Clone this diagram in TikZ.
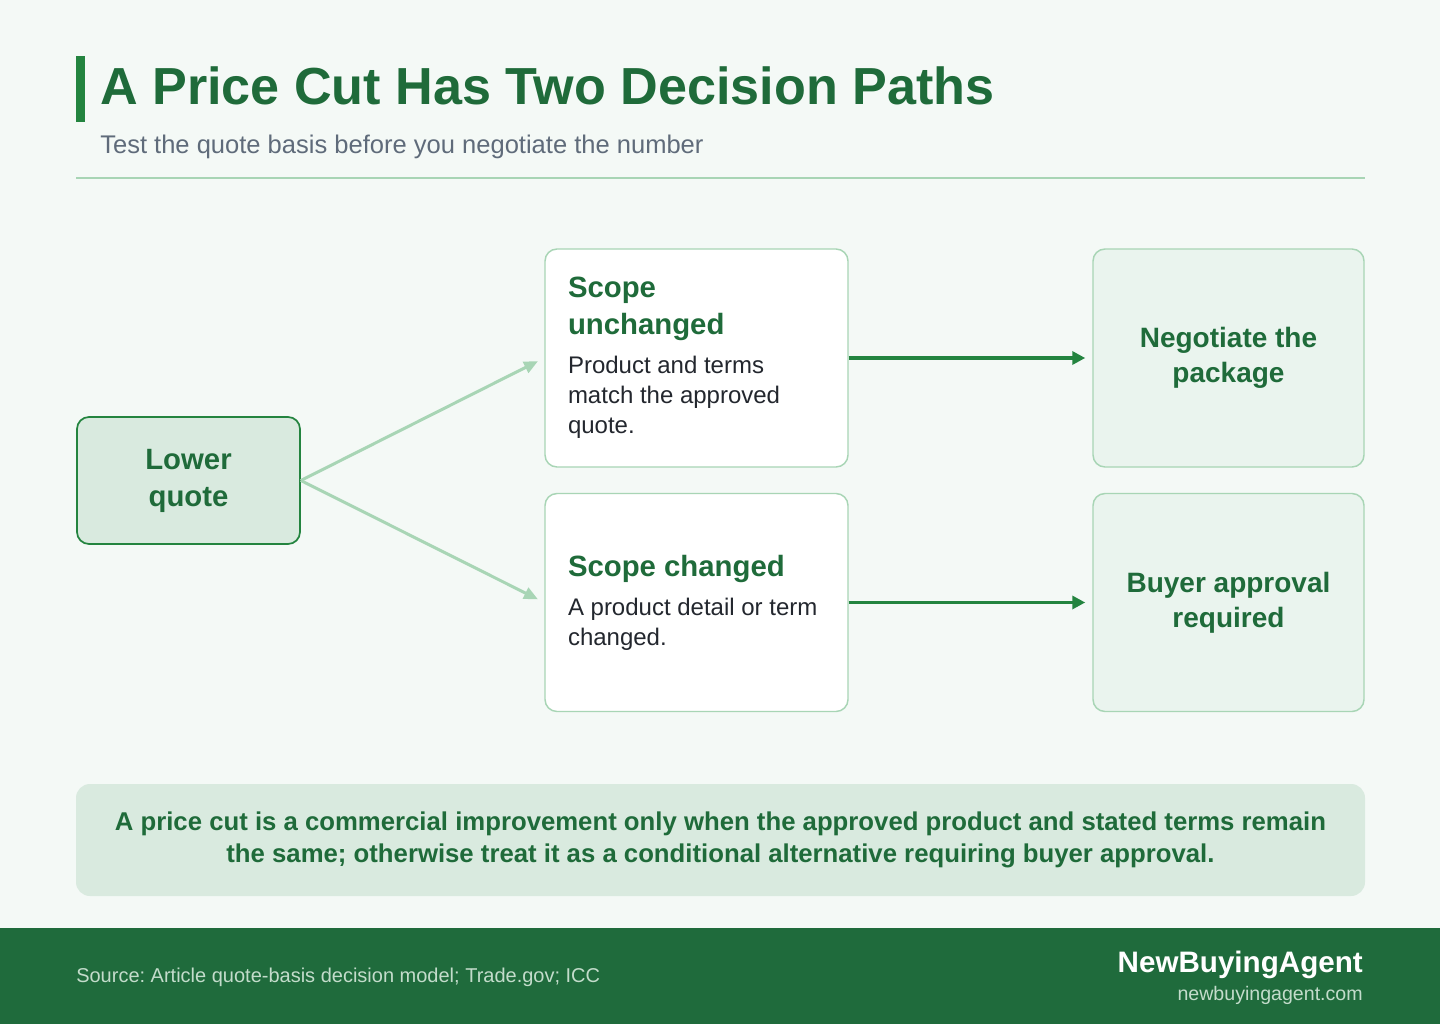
\documentclass[tikz,border=0pt]{standalone}
\usepackage{fontspec}
\setmainfont{Liberation Sans}
\usetikzlibrary{arrows.meta,positioning}
\definecolor{pagebg}{HTML}{F4F9F6}
\definecolor{nbagreen}{HTML}{1F6B3A}
\definecolor{nbaaccent}{HTML}{23843F}
\definecolor{nbalight}{HTML}{A8D5B5}
\definecolor{nbapale}{HTML}{D9EADF}
\definecolor{nbamint}{HTML}{EAF4EE}
\definecolor{nbagrey}{HTML}{5F6B7A}
\definecolor{nbaink}{HTML}{23272E}
\definecolor{nbafooter}{HTML}{1F6B3C}
\definecolor{nbafoottext}{HTML}{C3DCCB}

\begin{document}
\frenchspacing
\begin{tikzpicture}[
    x=0.75pt, y=-0.75pt,
    natural/.style={execute at begin node={\spaceskip=0pt\xspaceskip=0pt}},
    card/.style={natural, draw=nbalight, line width=1.1pt, rounded corners=9pt, fill=white,
      minimum width=227.25pt, minimum height=163.5pt, inner xsep=17.25pt,
      text width=192.75pt, align=left, text=nbaink,
      font=\fontsize{18}{22.5}\selectfont},
    start/.style={natural, draw=nbaaccent, line width=1.3pt, rounded corners=9pt, fill=nbapale,
      minimum width=167.25pt, minimum height=95.25pt, align=center,
      text=nbagreen, font=\fontsize{22}{27.75}\selectfont\bfseries},
    outcome/.style={natural, draw=nbalight, line width=1.1pt, rounded corners=9pt, fill=nbamint,
      minimum width=203.25pt, minimum height=163.5pt, align=center,
      text=nbagreen, font=\fontsize{21}{26.25}\selectfont\bfseries},
    branch/.style={-{Triangle[length=10.5pt,width=9pt]}, line width=2.25pt,
      draw=nbalight, shorten >=5.25pt},
    arrow/.style={-{Triangle[length=9.75pt,width=9.75pt]}, line width=2.6pt,
      draw=nbaaccent, shorten >=5.25pt}
  ]
    \useasboundingbox[fill=pagebg] (0,0) rectangle (1440,1024);

    % header
    \fill[nbaaccent] (76,56) rectangle (85,122);
    \node[anchor=base west, inner sep=0pt, text=nbagreen,
      font=\fontsize{39.1}{46}\selectfont\bfseries] (title) at (100,104)
      {A Price Cut Has Two Decision Paths};
    \node[anchor=base west, inner sep=0pt, text=nbagrey,
      font=\fontsize{19.15}{23}\selectfont] (subtitle) at (100,153)
      {Test the quote basis before you negotiate the number};
    \draw[nbalight, line width=1.3pt] (76,178) -- (1365,178);

    % decision nodes
    \node[start] (lower) at (188.5,480.5) {Lower\\quote};

    \node[card] (unchanged) at (696.5,358) {%
      {\fontsize{22}{27.75}\selectfont\bfseries\color{nbagreen}Scope\\unchanged\par}
      \vspace{6.75pt}%
      Product and terms\\match the approved\\quote.\par};
    \node[card] (changed) at (696.5,602.5) {%
      {\fontsize{22}{27.75}\selectfont\bfseries\color{nbagreen}Scope changed\par}
      \vspace{6.75pt}%
      A product detail or term\\changed.\par};

    \node[outcome] (negotiate) at (1228.5,358) {Negotiate the\\package};
    \node[outcome] (approval) at (1228.5,602.5) {Buyer approval\\required};

    \draw[branch] (lower.east) -- (unchanged.west);
    \draw[branch] (lower.east) -- (changed.west);
    \draw[arrow] (unchanged) -- (negotiate);
    \draw[arrow] (changed) -- (approval);

    % takeaway
    \node[natural, fill=nbapale, rounded corners=10.5pt, minimum width=966.75pt,
      minimum height=84pt, align=center, text=nbagreen,
      font=\fontsize{19.3}{24}\selectfont\bfseries] (note) at (720.5,840)
      {A price cut is a commercial improvement only when the approved product and stated terms remain\\
       the same; otherwise treat it as a conditional alternative requiring buyer approval.};

    % footer
    \fill[nbafooter] (0,928) rectangle (1440,1024);
    \node[anchor=base west, inner sep=0pt, text=nbafoottext,
      font=\fontsize{15}{18}\selectfont] (source) at (76,982)
      {Source: Article quote-basis decision model; Trade.gov; ICC};
    \node[anchor=base east, inner sep=0pt, text=white,
      font=\fontsize{22.2}{26}\selectfont\bfseries] (brand) at (1363,972)
      {NewBuyingAgent};
    \node[anchor=base east, inner sep=0pt, text=nbafoottext,
      font=\fontsize{14.7}{17}\selectfont] (site) at (1363,1000)
      {newbuyingagent.com};
\end{tikzpicture}
\end{document}
